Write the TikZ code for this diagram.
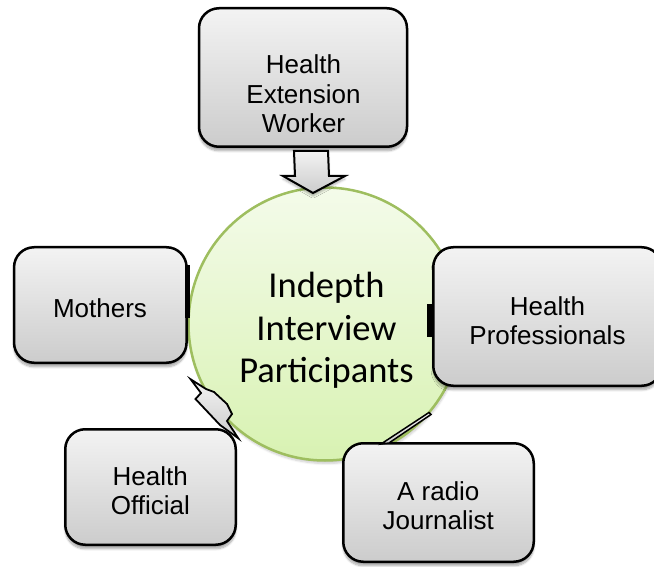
\documentclass[tikz,border=0pt]{standalone}
\usepackage{fontspec}
\setmainfont{Liberation Sans}
\newfontfamily\carlito{Carlito}
\usetikzlibrary{shadows.blur}
\definecolor{boxtop}{RGB}{243,243,243}
\definecolor{boxbot}{RGB}{204,204,204}
\definecolor{circtop}{RGB}{244,251,234}
\definecolor{circbot}{RGB}{216,242,178}
\definecolor{circline}{RGB}{158,190,95}

\begin{document}
\begin{tikzpicture}[x=1pt,y=-1pt,
  pbox/.style={draw=black, line width=2.5pt, rounded corners=20pt,
    top color=boxtop, bottom color=boxbot,
    blur shadow={shadow xshift=0pt, shadow yshift=-4pt, shadow blur steps=8, shadow opacity=35}},
  ptext/.style={align=center, inner sep=0pt, font=\fontsize{26}{29.5}\selectfont},
  barrow/.style={draw=black, line width=2pt, line join=miter,
    top color=boxtop, bottom color=boxbot}]
\useasboundingbox (0,0) rectangle (654,567);

% centre
\node[circle, draw=circline, line width=2.5pt, top color=circtop, bottom color=circbot,
  minimum size=273pt,
  blur shadow={shadow xshift=1pt, shadow yshift=-3pt, shadow blur steps=6, shadow opacity=20}]
  (part) at (325,324) {};
\node[ptext, font=\carlito\fontsize{36.5}{42.5}\selectfont] (part-txt) at (326.5,330.7)
  {Indepth\\Interview\\Participants};

% boxes
\node[pbox, minimum width=208pt, minimum height=138.5pt] (hew) at (303,77.5) {};
\node[ptext] (hew-txt) at (303.5,94) {Health\\Extension\\Worker};
\node[pbox, minimum width=172.5pt, minimum height=115.5pt] (mothers) at (100.3,305) {};
\node[ptext] (mothers-txt) at (100,307.8) {Mothers};
\node[pbox, minimum width=228.5pt, minimum height=138.5pt] (prof) at (547.5,316.5) {};
\node[ptext] (prof-txt) at (547.5,320.8) {Health\\Professionals};
\node[pbox, minimum width=170.5pt, minimum height=115.5pt] (official) at (150.5,487) {};
\node[ptext] (official-txt) at (150.3,490.5) {Health\\Official};
\node[pbox, minimum width=190.5pt, minimum height=118.5pt] (radio) at (438.5,502.5) {};
\node[ptext] (radio-txt) at (438.3,505.5) {A radio\\Journalist};

% arrows
\draw[barrow, blur shadow={shadow xshift=0pt, shadow yshift=-3pt, shadow opacity=30}]
  (294,151) -- (328,151) -- (329,176) -- (345,176) -- (313,193) -- (283,176) -- (295,176) -- cycle;
\fill (185,265) rectangle (189.5,318);
\fill (427,304) rectangle (432,337);
\draw[barrow, line width=1.8pt] (190.7,379.3) -- (206,389) -- (214,392) -- (227,404) -- (232,414)
  -- (227,421) -- (238.3,438.3) -- (220,425) -- (195.5,399) -- (201,393) -- cycle;
\draw[barrow, line width=1.5pt] (381,444) -- (429,412.5) -- (431,414.5) -- (389,443) -- cycle;
\end{tikzpicture}
\end{document}
